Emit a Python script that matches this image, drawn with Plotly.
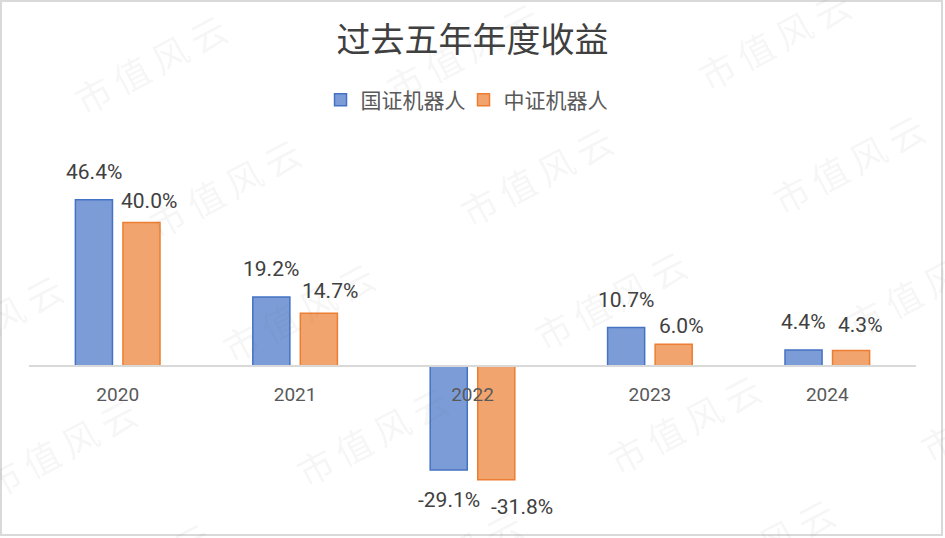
import plotly.graph_objects as go

# ---------------- data ----------------
years = ["2020", "2021", "2022", "2023", "2024"]
guozheng = [46.4, 19.2, -29.1, 10.7, 4.4]      # 国证机器人
zhongzheng = [40.0, 14.7, -31.8, 6.0, 4.3]     # 中证机器人
series_names = ["国证机器人", "中证机器人"]
title_text = "过去五年年度收益"
watermark_text = "市\u2009值\u2009风\u2009云"

# ---------------- layout constants ----------------
W, H = 945, 538
ML, MR, MT, MB = 29, 29, 151, 11
PW, PH = W - ML - MR, H - MT - MB
Y_RANGE = [-45.0, 60.0]
BARGAP, BARGROUPGAP = 0.464, 0.22

styles = [
    dict(fill="#7c9cd7", line="#4472c4"),
    dict(fill="#f2a46e", line="#ed7d31"),
]

# label nudges (dx, dy in px) per series, per category (styling only)
label_nudges = [
    {"2022": (0, 1.5)},
    {"2020": (7.5, -6), "2021": (11.5, -5.5), "2022": (25.5, -0.5),
     "2023": (8, -10), "2024": (9.5, -2.5)},
]
LABEL_GAP = 28


def to_paper(px, py):
    return (px - ML) / PW, (H - MB - py) / PH


fig = go.Figure()
for name, vals, st in zip(series_names, [guozheng, zhongzheng], styles):
    fig.add_bar(
        x=years, y=vals, name=name,
        marker=dict(color=st["fill"], line=dict(color=st["line"], width=1.5)),
    )

# data labels (x given as category index)
cat_w = PW / len(years)
slot = cat_w * (1 - BARGAP) / 2
offsets = [-slot / 2, slot / 2]
annotations = []
for si, vals in enumerate([guozheng, zhongzheng]):
    for ci, (yr, v) in enumerate(zip(years, vals)):
        dx, dy = label_nudges[si].get(yr, (0, 0))
        sign = 1 if v >= 0 else -1
        annotations.append(dict(
            x=ci, y=v, xref="x", yref="y", text=f"{v:.1f}%", showarrow=False,
            xshift=offsets[si] + dx, yshift=sign * (LABEL_GAP + dy),
            xanchor="center", yanchor="middle",
            font=dict(family="Roboto", size=21, color="#404040"),
        ))

# watermark
for j in range(-1, 6):
    for i in range(-2, 5):
        cx = 150 + i * 312 + j * 74
        cy = 63 - i * 12 + j * 124
        if -100 < cx < 1045 and -50 < cy < 600:
            px, py = to_paper(cx, cy)
            annotations.append(dict(
                x=px, y=py, xref="paper", yref="paper", text=watermark_text,
                showarrow=False, textangle=-28, xanchor="center", yanchor="middle",
                font=dict(family="Noto Sans CJK SC", size=36, color="rgba(120,120,120,0.07)"),
            ))

bx0, by1 = to_paper(1, 1)
bx1, by0 = to_paper(942, 535)

fig.update_layout(
    width=W, height=H,
    margin=dict(l=ML, r=MR, t=MT, b=MB),
    paper_bgcolor="white", plot_bgcolor="white",
    barmode="group", bargap=BARGAP, bargroupgap=BARGROUPGAP,
    title=dict(text=title_text, x=0.5, xanchor="center", xref="container",
               y=1 - 40 / H, yanchor="middle", yref="container",
               font=dict(family="Noto Sans CJK SC", size=34, color="#404040")),
    legend=dict(orientation="h", x=0.4905, xanchor="center", xref="container",
                y=1 - 100 / H, yanchor="middle", yref="container",
                entrywidthmode="pixels", entrywidth=98,
                font=dict(family="Noto Sans CJK SC", size=21, color="#595959"),
                itemclick=False),
    xaxis=dict(type="category", categoryorder="array", categoryarray=years,
               range=[-0.5, len(years) - 0.5], anchor="free",
               position=-Y_RANGE[0] / (Y_RANGE[1] - Y_RANGE[0]),
               showline=True, linecolor="#d9d9d9", linewidth=2,
               ticks="", ticklabelstandoff=11, showgrid=False, zeroline=False,
               tickfont=dict(family="Roboto", size=19, color="#595959")),
    yaxis=dict(range=Y_RANGE, visible=False, showgrid=False, zeroline=False),
    annotations=annotations,
    shapes=[dict(type="rect", xref="paper", yref="paper", x0=bx0, x1=bx1, y0=by0, y1=by1,
                 line=dict(color="#d9d9d9", width=2), fillcolor="rgba(0,0,0,0)", layer="above")],
    showlegend=True,
)

fig.write_html("out.html", config={"displayModeBar": False},
               post_script="document.body.style.margin='0px';document.body.style.overflow='hidden';")
